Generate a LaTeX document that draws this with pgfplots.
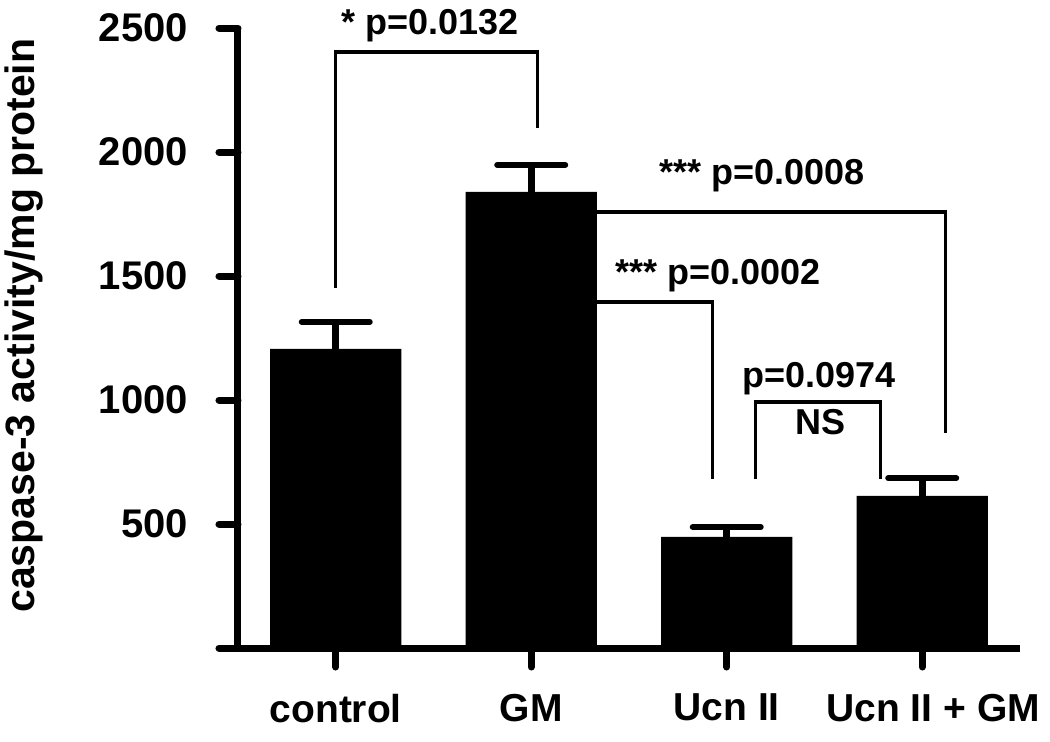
\documentclass[border=0pt]{standalone}
\usepackage{fontspec}
\setmainfont{Liberation Sans}
\usepackage{pgfplots}
\pgfplotsset{compat=1.18}
\begin{document}
\begin{tikzpicture}
\begin{axis}[
  name=ax,
  scale only axis,
  width=391pt, height=310pt,
  xmin=-0.5, xmax=3.5,
  ymin=0, ymax=2500,
  clip=false,
  axis x line=bottom, axis y line=left,
  axis line style={-, line width=3.5pt, black},
  tick align=outside,
  major tick length=9.5pt,
  tick style={line width=3.5pt, line cap=round, black},
  xtick={0,1,2,3},
  xticklabels={control, GM, Ucn II, {\hspace*{11pt}Ucn II + GM}},
  ytick={0,500,1000,1500,2000,2500},
  yticklabels={,500,1000,1500,2000,2500},
  /pgf/number format/assume math mode=true,
  xticklabel style={font=\fontsize{19.5}{23}\selectfont\bfseries, yshift=-10pt},
  yticklabel style={font=\fontsize{20}{24}\selectfont\bfseries, xshift=-12pt},
  ylabel={caspase-3 activity/mg protein},
  every axis y label/.style={at={(axis description cs:0,0.52)}, xshift=-94pt, rotate=90, anchor=south, font=\fontsize{20.5}{24}\selectfont\bfseries},
  ybar, bar width=0.672,
]
\addplot[fill=black, draw=none,
  error bars/.cd, y dir=plus, y explicit,
  error bar style={line width=3.5pt, black},
  error mark options={rotate=90, line width=3pt, mark size=17pt, black, line cap=round}]
  coordinates {(0,1206) +- (0,109) (1,1839) +- (0,109) (2,448) +- (0,40) (3,613) +- (0,72)};
\begin{scope}[line width=1.6pt]
\draw (axis cs:0,1452) -- (axis cs:0,2403) -- (axis cs:1.03,2403) -- (axis cs:1.03,2097);
\draw (axis cs:1.336,1758) -- (axis cs:3.118,1758) -- (axis cs:3.118,867);
\draw (axis cs:1.336,1395) -- (axis cs:1.928,1395) -- (axis cs:1.928,681);
\draw (axis cs:2.149,681) -- (axis cs:2.149,992) -- (axis cs:2.785,992) -- (axis cs:2.785,681);
\end{scope}
\begin{scope}[every node/.style={anchor=base, font=\fontsize{18}{22}\selectfont\bfseries, inner sep=0pt}]
\node at (axis cs:0.482,2472) {* p=0.0132};
\node at (axis cs:2.18,1867) {*** p=0.0008};
\node at (axis cs:1.954,1464) {*** p=0.0002};
\node at (axis cs:2.472,1052) {p=0.0974};
\node at (axis cs:2.48,859) {NS};
\end{scope}
\end{axis}
\pgfresetboundingbox
\path ([shift={(-119pt,-46.5pt)}]ax.south west) rectangle ([shift={(406pt,324pt)}]ax.south west);
\end{tikzpicture}
\end{document}
